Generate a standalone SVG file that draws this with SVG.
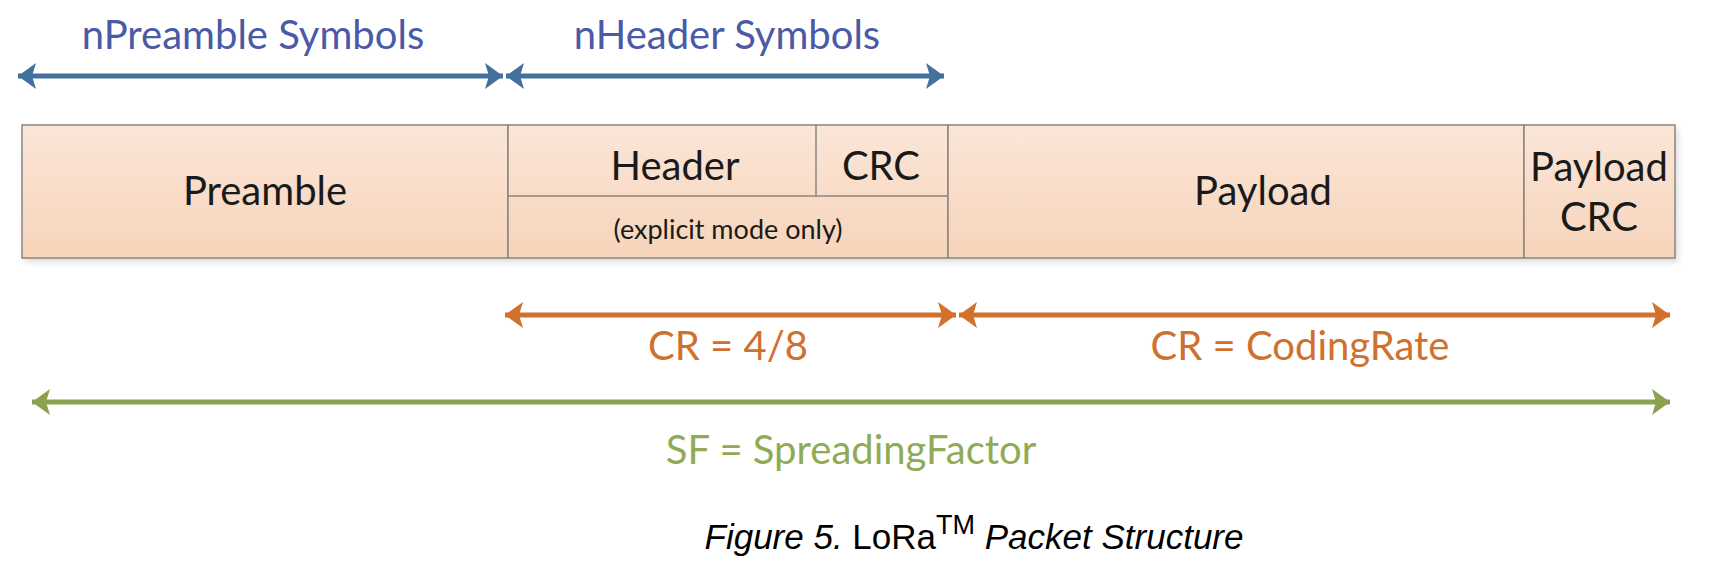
<svg xmlns="http://www.w3.org/2000/svg" width="1710" height="565" viewBox="0 0 1710 565">
<style>
.lbl{font-family:Lato,"Open Sans",sans-serif;font-size:40px;fill:#1a1a1a;text-anchor:middle}
.small{font-size:27px}
.blue{font-family:Lato,"Open Sans",sans-serif;font-size:40px;fill:#4a5aa6;text-anchor:middle}
.orange{font-family:Lato,"Open Sans",sans-serif;font-size:40px;fill:#d0702f;text-anchor:middle}
.green{font-family:Lato,"Open Sans",sans-serif;font-size:40px;fill:#8fab55;text-anchor:middle}
.cell{fill:url(#peach);stroke:#8a8580;stroke-width:1.5}
.div{stroke:#8a8580;stroke-width:1.5;fill:none}
.cap{font-family:"Liberation Sans",Arial,sans-serif;font-size:35px;fill:#000}
</style>
<defs>
<linearGradient id="peach" x1="0" y1="0" x2="0" y2="1">
<stop offset="0" stop-color="#fbe6d8"/>
<stop offset="1" stop-color="#f6d4ba"/>
</linearGradient>
<filter id="sh" x="-5%" y="-20%" width="110%" height="150%">
<feGaussianBlur stdDeviation="3"/>
</filter>
<marker id="bs" viewBox="0 0 20 26" refX="0" refY="13" markerWidth="20" markerHeight="26" markerUnits="userSpaceOnUse" orient="auto"><path d="M0,13 L18,0 L14,13 L18,26 Z" fill="#41719c"/></marker>
<marker id="be" viewBox="0 0 20 26" refX="20" refY="13" markerWidth="20" markerHeight="26" markerUnits="userSpaceOnUse" orient="auto"><path d="M20,13 L2,0 L6,13 L2,26 Z" fill="#41719c"/></marker>
<marker id="os" viewBox="0 0 20 26" refX="0" refY="13" markerWidth="20" markerHeight="26" markerUnits="userSpaceOnUse" orient="auto"><path d="M0,13 L18,0 L14,13 L18,26 Z" fill="#d2702c"/></marker>
<marker id="oe" viewBox="0 0 20 26" refX="20" refY="13" markerWidth="20" markerHeight="26" markerUnits="userSpaceOnUse" orient="auto"><path d="M20,13 L2,0 L6,13 L2,26 Z" fill="#d2702c"/></marker>
<marker id="gs" viewBox="0 0 20 26" refX="0" refY="13" markerWidth="20" markerHeight="26" markerUnits="userSpaceOnUse" orient="auto"><path d="M0,13 L18,0 L14,13 L18,26 Z" fill="#8aa24f"/></marker>
<marker id="ge" viewBox="0 0 20 26" refX="20" refY="13" markerWidth="20" markerHeight="26" markerUnits="userSpaceOnUse" orient="auto"><path d="M20,13 L2,0 L6,13 L2,26 Z" fill="#8aa24f"/></marker>
</defs>
<rect width="1710" height="565" fill="#ffffff"/>
<rect x="24" y="129" width="1654" height="133" fill="#b8b8b8" opacity="0.5" filter="url(#sh)"/>

<g id="preamble">
<rect class="cell" x="22" y="125" width="486" height="133"/>
<text class="lbl" x="265" y="205">Preamble</text>
</g>
<g id="header">
<rect class="cell" x="508" y="125" width="440" height="133"/>
<line class="div" x1="508" y1="196" x2="948" y2="196"/>
<line class="div" x1="816" y1="125" x2="816" y2="196"/>
<text class="lbl" x="675" y="180">Header</text>
<text class="lbl" x="881" y="180">CRC</text>
<text class="lbl small" x="728" y="239">(explicit mode only)</text>
</g>
<g id="payload">
<rect class="cell" x="948" y="125" width="576" height="133"/>
<text class="lbl" x="1263" y="205">Payload</text>
</g>
<g id="payload-crc">
<rect class="cell" x="1524" y="125" width="151" height="133"/>
<text class="lbl" x="1599" y="181">Payload</text>
<text class="lbl" x="1599" y="231">CRC</text>
</g>

<g id="connectors" fill="none" stroke-width="5">
<line x1="18" y1="76" x2="503" y2="76" stroke="#41719c" marker-start="url(#bs)" marker-end="url(#be)"/>
<line x1="506" y1="76" x2="944" y2="76" stroke="#41719c" marker-start="url(#bs)" marker-end="url(#be)"/>
<line x1="505" y1="315" x2="956" y2="315" stroke="#d2702c" marker-start="url(#os)" marker-end="url(#oe)"/>
<line x1="959" y1="315" x2="1670" y2="315" stroke="#d2702c" marker-start="url(#os)" marker-end="url(#oe)"/>
<line x1="32" y1="402" x2="1670" y2="402" stroke="#8aa24f" marker-start="url(#gs)" marker-end="url(#ge)"/>
</g>

<g id="labels">
<text class="blue" x="253" y="49">nPreamble Symbols</text>
<text class="blue" x="727" y="49">nHeader Symbols</text>
<text class="orange" x="728" y="360">CR = 4/8</text>
<text class="orange" x="1300" y="360">CR = CodingRate</text>
<text class="green" x="851" y="464">SF = SpreadingFactor</text>
</g>

<g id="caption">
<text class="cap" x="974" y="549" text-anchor="middle"><tspan font-style="italic">Figure 5.</tspan> LoRa<tspan font-size="27" dy="-15">TM</tspan><tspan dy="15" font-style="italic"> Packet Structure</tspan></text>
</g>
</svg>
